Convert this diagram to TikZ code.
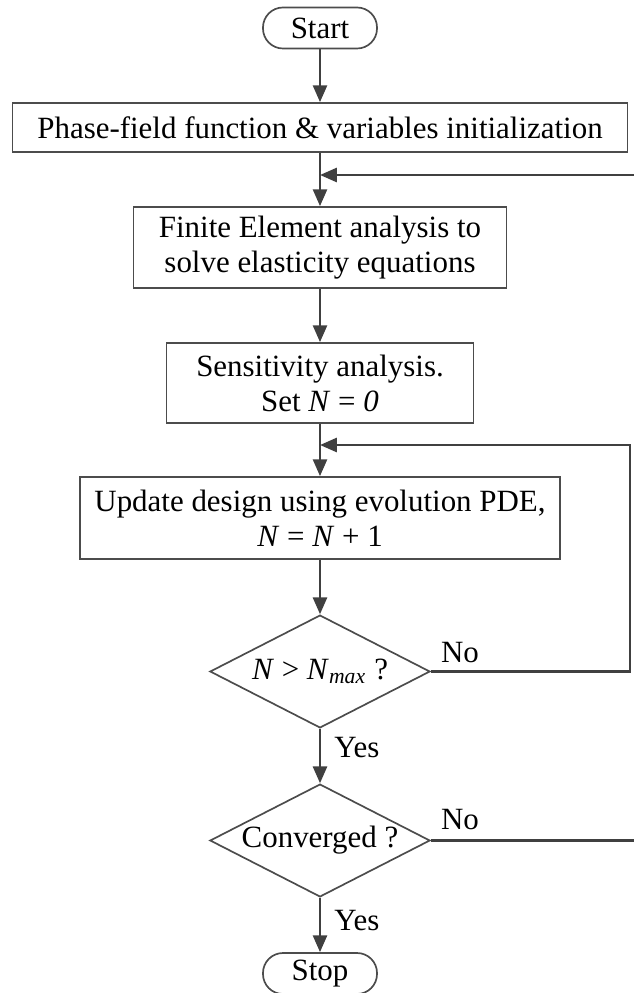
\documentclass[tikz,border=0pt]{standalone}
\usepackage{fontspec}
\setmainfont{Liberation Serif}
\usepackage{tikz}
\usetikzlibrary{arrows.meta, shapes.geometric}
\tikzset{flow/.style={draw=black!75, line width=0.9pt, -{Triangle[width=5pt,length=6pt]}}}
\tikzset{process/.style={draw=black!70, line width=0.6pt, align=center, inner sep=0pt}}
\tikzset{terminal/.style={process, rounded corners=0.25cm, minimum width=1.425cm, minimum height=0.5125cm}}
\tikzset{decision/.style={process, diamond, aspect=1.95, minimum width=2.75cm, minimum height=1.41cm}}
\tikzset{answer/.style={inner sep=0pt}}

\begin{document}
\begin{tikzpicture}[x=0.0125cm, y=-0.0125cm, font=\fontsize{11}{12.5}\selectfont]
            \useasboundingbox (0,0) rectangle (634,993);
            \clip (0,0) rectangle (634,993);
            \node[terminal] (start) at (320, 28) {Start};
            \node[process, minimum width=7.6875cm, minimum height=0.6125cm] (init) at (320, 127.5) {Phase-field function \& variables initialization};
            \node[process, minimum width=4.6625cm, minimum height=1.0125cm] (fe) at (320, 247.5) {Finite Element analysis to\\solve elasticity equations};
            \node[process, minimum width=3.8375cm, minimum height=1.0cm] (sens) at (320, 383) {Sensitivity analysis.\\Set \textit{N} = \textit{0}};
            \node[process, minimum width=6.0cm, minimum height=1.025cm] (upd) at (320, 518) {Update design using evolution PDE,\\\textit{N} = \textit{N} + 1};
            \node[decision] (dia1) at (320, 671.5) {\textit{N} {>} \textit{N}\textsubscript{\textit{max}} ?};
            \node[decision] (dia2) at (320, 840.5) {Converged ?};
            \node[terminal] (stop) at (320, 973.5) {Stop};
            % loop points
            \coordinate (j1) at (320, 175);
            \coordinate (j2) at (320, 445);
            \coordinate (r1) at (630, 445);
            \coordinate (r2) at (660, 175);
            \node[answer] (no1) at (460, 653) {No};
            \node[answer] (yes1) at (357, 748) {Yes};
            \node[answer] (no2) at (460, 820) {No};
            \node[answer] (yes2) at (357, 921) {Yes};
            \draw[flow] (start) -- (init);
            \draw[flow] (init) -- (fe);
            \draw[flow] (fe) -- (sens);
            \draw[flow] (sens) -- (upd);
            \draw[flow] (upd) -- (dia1);
            \draw[flow] (dia1) -- (dia2);
            \draw[flow] (dia2) -- (stop);
            \draw[flow] (dia1.east) -| (r1) -- (j2);
            \draw[flow] (dia2.east) -| (r2) -- (j1);
        \end{tikzpicture}
\end{document}
